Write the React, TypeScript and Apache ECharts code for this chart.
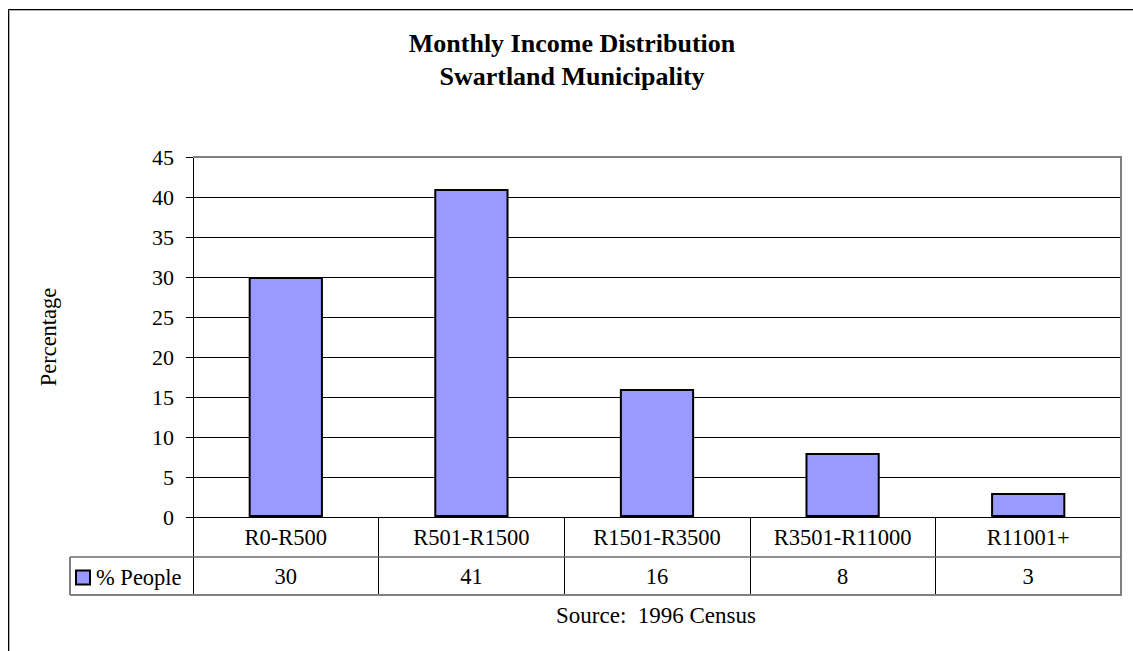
import React, { useEffect, useRef } from "react";
import * as echarts from "echarts";

// Income bands and share of people in each band
const categories: string[] = ["R0-R500", "R501-R1500", "R1501-R3500", "R3501-R11000", "R11001+"];
const peopleShare: number[] = [30, 41, 16, 8, 3];
const seriesName = "% People";
const titleLines: string[] = ["Monthly Income Distribution", "Swartland Municipality"];
const yAxisName = "Percentage";
const sourceNote = "Source:  1996 Census";

// Layout (pixels)
const W = 1133;
const H = 651;
const PLOT_LEFT = 193;
const PLOT_RIGHT = 1121;
const PLOT_TOP = 157;
const PLOT_BOTTOM = 517;
const ROW1_BOTTOM = 557;
const ROW2_BOTTOM = 595;
const LEGEND_LEFT = 70;
const FONT = "Liberation Serif";
const GRAY = "#808080";
const TEXT_SIZE = 22.5;

export default function App() {
  const ref = useRef<HTMLDivElement>(null);

  useEffect(() => {
    if (!ref.current) return;
    const chart = echarts.init(ref.current, undefined, { renderer: "svg" });

    const splitColors = Array.from({ length: 10 }, (_, i) => (i === 9 ? GRAY : "#000"));

    const option: echarts.EChartsOption = {
      animation: false,
      backgroundColor: "#fff",
      textStyle: { fontFamily: FONT, color: "#000" },
      title: {
        text: titleLines.join("\n"),
        left: 572,
        top: 27,
        textAlign: "center",
        padding: 0,
        textStyle: {
          fontFamily: FONT,
          fontSize: 26,
          fontWeight: "bold",
          color: "#000",
          lineHeight: 33,
        },
      },
      legend: {
        data: [seriesName],
        left: 75,
        top: 566,
        padding: 0,
        itemWidth: 14,
        itemHeight: 14,
        icon: "rect",
        itemStyle: { borderColor: "#000", borderWidth: 2 },
        textStyle: { fontFamily: FONT, fontSize: TEXT_SIZE, color: "#000", padding: [0, 0, 0, 1] },
        selectedMode: false,
      },
      grid: {
        left: PLOT_LEFT,
        right: W - PLOT_RIGHT,
        top: PLOT_TOP,
        bottom: H - PLOT_BOTTOM,
        containLabel: false,
      },
      xAxis: [
        {
          type: "category",
          data: categories,
          position: "bottom",
          axisLine: { show: true, lineStyle: { color: "#000", width: 1 } },
          axisTick: {
            show: true,
            length: ROW2_BOTTOM - PLOT_BOTTOM,
            lineStyle: { color: "#000", width: 1 },
          },
          axisLabel: {
            fontFamily: FONT,
            fontSize: TEXT_SIZE,
            color: "#000",
            margin: 9,
          },
          splitLine: { show: false },
        },
        {
          // data-table row holding the values
          type: "category",
          data: peopleShare.map((v) => String(v)),
          position: "bottom",
          offset: ROW1_BOTTOM - PLOT_BOTTOM,
          axisLine: { show: false },
          axisTick: { show: false },
          axisLabel: {
            fontFamily: FONT,
            fontSize: TEXT_SIZE,
            color: "#000",
            margin: 8,
          },
          splitLine: { show: false },
        },
      ],
      yAxis: {
        type: "value",
        min: 0,
        max: 45,
        interval: 5,
        name: yAxisName,
        nameLocation: "middle",
        nameRotate: 90,
        nameGap: 133,
        nameTextStyle: { fontFamily: FONT, fontSize: TEXT_SIZE, color: "#000" },
        axisLine: { show: true, lineStyle: { color: "#000", width: 1 } },
        axisTick: { show: true, inside: false, length: 7, lineStyle: { color: "#000" } },
        axisLabel: { fontFamily: FONT, fontSize: 22, color: "#000", margin: 19 },
        splitLine: { show: true, lineStyle: { color: splitColors, width: 1 } },
      },
      series: [
        {
          name: seriesName,
          type: "bar",
          xAxisIndex: 0,
          data: peopleShare,
          barWidth: "40%",
          itemStyle: { color: "#9999FF", borderColor: "#000", borderWidth: 2 },
        },
      ],
      graphic: [
        // outer chart frame
        {
          type: "rect",
          z: 100,
          silent: true,
          shape: { x: 8.5, y: 9.5, width: 1200, height: 700 },
          style: { fill: "none", stroke: "#000", lineWidth: 1 },
        },
        {
          type: "rect",
          z: 100,
          silent: true,
          shape: { x: 9.5, y: 10.5, width: 1200, height: 700 },
          style: { fill: "none", stroke: "#b0b0b0", lineWidth: 1 },
        },
        // plot area top and right border
        {
          type: "line",
          z: 100,
          silent: true,
          shape: { x1: PLOT_LEFT, y1: PLOT_TOP, x2: PLOT_RIGHT, y2: PLOT_TOP },
          style: { stroke: GRAY, lineWidth: 2 },
        },
        {
          type: "line",
          z: 100,
          silent: true,
          shape: { x1: PLOT_RIGHT, y1: PLOT_TOP - 1, x2: PLOT_RIGHT, y2: ROW2_BOTTOM + 1 },
          style: { stroke: GRAY, lineWidth: 2 },
        },
        // data table borders
        {
          type: "line",
          z: 100,
          silent: true,
          shape: { x1: LEGEND_LEFT, y1: ROW1_BOTTOM, x2: PLOT_RIGHT, y2: ROW1_BOTTOM },
          style: { stroke: "#6a6a6a", lineWidth: 1.5 },
        },
        {
          type: "line",
          z: 100,
          silent: true,
          shape: { x1: LEGEND_LEFT, y1: ROW2_BOTTOM, x2: PLOT_RIGHT, y2: ROW2_BOTTOM },
          style: { stroke: GRAY, lineWidth: 2 },
        },
        {
          type: "line",
          z: 100,
          silent: true,
          shape: { x1: LEGEND_LEFT, y1: ROW1_BOTTOM, x2: LEGEND_LEFT, y2: ROW2_BOTTOM },
          style: { stroke: GRAY, lineWidth: 2 },
        },
        // source note
        {
          type: "text",
          z: 100,
          silent: true,
          x: 656,
          y: 615,
          style: {
            text: sourceNote,
            fontFamily: FONT,
            fontSize: 23,
            fill: "#000",
            textAlign: "center",
            textVerticalAlign: "middle",
          },
        },
      ],
    };

    chart.setOption(option);
    return () => chart.dispose();
  }, []);

  return (
    <div
      ref={ref}
      style={{ position: "absolute", left: 0, top: 0, width: W, height: H, background: "#fff" }}
    />
  );
}
